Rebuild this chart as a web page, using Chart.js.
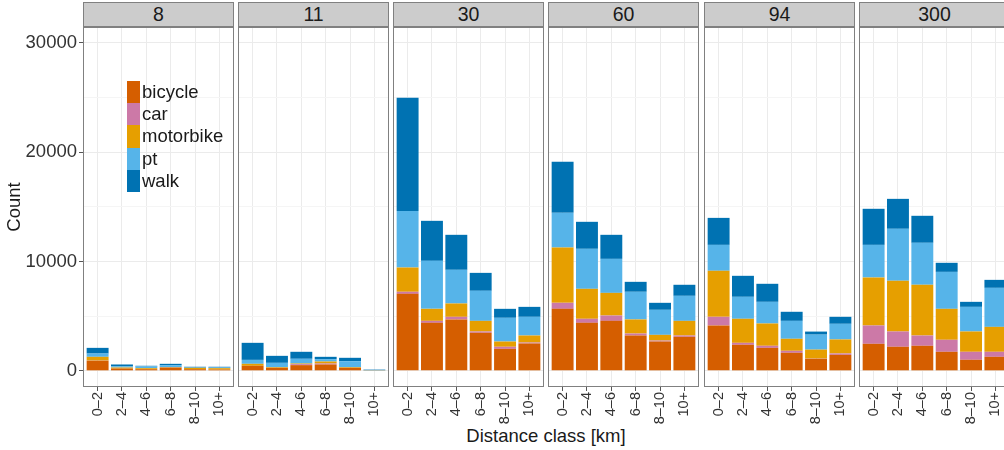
<!DOCTYPE html>
<html>
<head>
<meta charset="utf-8">
<script src="https://cdn.jsdelivr.net/npm/chart.js@4"></script>
<style>
  html, body { margin: 0; padding: 0; background: #fff; width: 1004px; height: 450px; overflow: hidden; }
  #wrap { position: absolute; left: 0; top: 0; width: 1016px; height: 450px; font-family: "Liberation Sans", Arial, sans-serif; }
  .panel { position: absolute; top: 27px; height: 400px; }
  .strip { position: absolute; top: 2px; height: 25px; box-sizing: border-box; background: #cccccc; border: 1px solid #808080;
           text-align: center; line-height: 23px; font-size: 19.5px; color: #1a1a1a; }
  #legend { position: absolute; left: 127px; top: 81px; z-index: 5; }
  .row { height: 22.2px; position: relative; }
  .key { position: absolute; left: 0; top: 0; width: 13px; height: 22.2px; }
  .lab { position: absolute; left: 15px; top: 0; line-height: 22.2px; font-size: 18.5px; color: #1a1a1a; white-space: nowrap; }
  #xtitle { position: absolute; left: 446px; width: 200px; top: 425px; text-align: center; font-size: 18.5px; color: #1a1a1a; white-space: nowrap; }
</style>
</head>
<body>
<div id="wrap">
  <div id="legend"></div>
  <div id="xtitle">Distance class [km]</div>
</div>
<script>
// --- data ---
const panelNames = ["8", "11", "30", "60", "94", "300"];
const distLabels = ["0–2", "2–4", "4–6", "6–8", "8–10", "10+"];
const modes = ["bicycle", "car", "motorbike", "pt", "walk"];
const modeColors = ["#D55E00", "#CC79A7", "#E69F00", "#56B4E9", "#0072B2"];
const yTicks = [0, 5000, 10000, 15000, 20000, 25000, 30000];

// one row per panel (8, 11, 30, 60, 94, 300), one value per distance class
const bicycle = [
  [910, 210, 150, 300, 150, 120],
  [460, 270, 520, 580, 270, 40],
  [7040, 4390, 4700, 3480, 2010, 2500],
  [5670, 4390, 4570, 3230, 2680, 3110],
  [4150, 2380, 2100, 1650, 1100, 1460],
  [2470, 2200, 2290, 1740, 1010, 1280]
];
const car = [
  [20, 0, 0, 0, 0, 0],
  [0, 0, 90, 90, 0, 0],
  [190, 180, 240, 120, 190, 90],
  [550, 370, 490, 180, 90, 120],
  [790, 180, 190, 180, 20, 130],
  [1680, 1400, 940, 1100, 730, 460]
];
const motorbike = [
  [350, 90, 90, 30, 120, 120],
  [180, 60, 60, 180, 60, 10],
  [2220, 1100, 1220, 970, 480, 640],
  [5060, 2740, 2070, 1290, 520, 1340],
  [4210, 2200, 2040, 1100, 820, 1280],
  [4390, 4630, 4640, 2830, 1860, 2280]
];
const pt = [
  [300, 100, 160, 190, 30, 60],
  [360, 400, 430, 220, 550, 0],
  [5180, 4390, 3080, 2750, 2170, 1710],
  [3170, 3660, 3110, 2530, 2290, 2290],
  [2370, 2010, 1980, 1640, 1370, 1430],
  [2980, 4760, 3840, 3380, 2250, 3570]
];
const walk = [
  [520, 180, 60, 120, 70, 70],
  [1560, 640, 640, 210, 310, 60],
  [10340, 3660, 3200, 1640, 820, 910],
  [4670, 2470, 2200, 910, 640, 1010],
  [2470, 1920, 1650, 830, 280, 640],
  [3300, 2740, 2470, 830, 460, 730]
];
const modeData = [bicycle, car, motorbike, pt, walk];

// --- layout ---
const FONT = "'Liberation Sans', Arial, sans-serif";
const PW = 151;
const wrap = document.getElementById("wrap");

// legend
const legend = document.getElementById("legend");
modes.forEach((m, i) => {
  const row = document.createElement("div");
  row.className = "row";
  row.innerHTML = `<div class="key" style="background:${modeColors[i]}"></div><div class="lab">${m}</div>`;
  legend.appendChild(row);
});

// panel frame
const framePlugin = {
  id: "frame",
  afterDraw(chart) {
    const a = chart.chartArea, ctx = chart.ctx;
    ctx.save();
    ctx.strokeStyle = "#808080";
    ctx.lineWidth = 1;
    ctx.strokeRect(a.left + 0.5, a.top + 0.5, a.right - a.left - 1, a.bottom - a.top - 1);
    ctx.restore();
  }
};

panelNames.forEach((name, p) => {
  const left = Math.round(82.7 + p * 155.26);
  const first = p === 0;

  const strip = document.createElement("div");
  strip.className = "strip";
  strip.style.left = left + "px";
  strip.style.width = PW + "px";
  strip.textContent = name;
  wrap.appendChild(strip);

  const box = document.createElement("div");
  box.className = "panel";
  box.style.left = (first ? 0 : left) + "px";
  box.style.width = (first ? left + PW : PW) + "px";
  const canvas = document.createElement("canvas");
  box.appendChild(canvas);
  wrap.appendChild(box);

  const datasets = modes.map((m, i) => ({
    label: m,
    data: modeData[i][p].map((v, k) => ({ x: k, y: v })),
    backgroundColor: modeColors[i],
    borderWidth: 0,
    barPercentage: 0.9,
    categoryPercentage: 1.0
  }));

  new Chart(canvas, {
    type: "bar",
    data: { datasets },
    plugins: [framePlugin],
    options: {
      responsive: true,
      maintainAspectRatio: false,
      animation: false,
      devicePixelRatio: 1,
      layout: { padding: 0 },
      plugins: { legend: { display: false }, tooltip: { enabled: false } },
      scales: {
        x: {
          type: "linear",
          stacked: true,
          min: -0.6,
          max: 5.6,
          offset: false,
          afterBuildTicks: s => { s.ticks = distLabels.map((_, k) => ({ value: k })); },
          afterFit: s => { s.height = 40; s.paddingLeft = 0; s.paddingRight = 0; },
          ticks: {
            autoSkip: false, maxRotation: 90, minRotation: 90, padding: 1,
            color: "#333", font: { family: FONT, size: 14.5 },
            callback: v => distLabels[v]
          },
          grid: { color: "#EBEBEB", offset: false, drawTicks: true, tickLength: 4, tickColor: "#555" },
          border: { display: false }
        },
        y: {
          stacked: true,
          min: -1480,
          max: 31450,
          afterBuildTicks: s => { s.ticks = yTicks.map(v => ({ value: v })); },
          afterFit: s => { s.width = first ? left : 0; s.paddingTop = 0; s.paddingBottom = 0; },
          ticks: {
            display: first, padding: 2, color: "#333", font: { family: FONT, size: 18.5 },
            callback: v => (v % 10000 === 0 ? String(v) : "")
          },
          grid: {
            color: c => (c.tick && c.tick.value % 10000 === 0 ? "#EBEBEB" : "#F5F5F5"),
            drawTicks: first,
            tickLength: 4,
            tickColor: c => (c.tick && c.tick.value % 10000 === 0 ? "#555" : "rgba(0,0,0,0)")
          },
          border: { display: false },
          title: {
            display: first, text: "Count", color: "#1a1a1a",
            font: { family: FONT, size: 18.5 }, padding: { top: 4, bottom: 0 }
          }
        }
      }
    }
  });
});
</script>
</body>
</html>
